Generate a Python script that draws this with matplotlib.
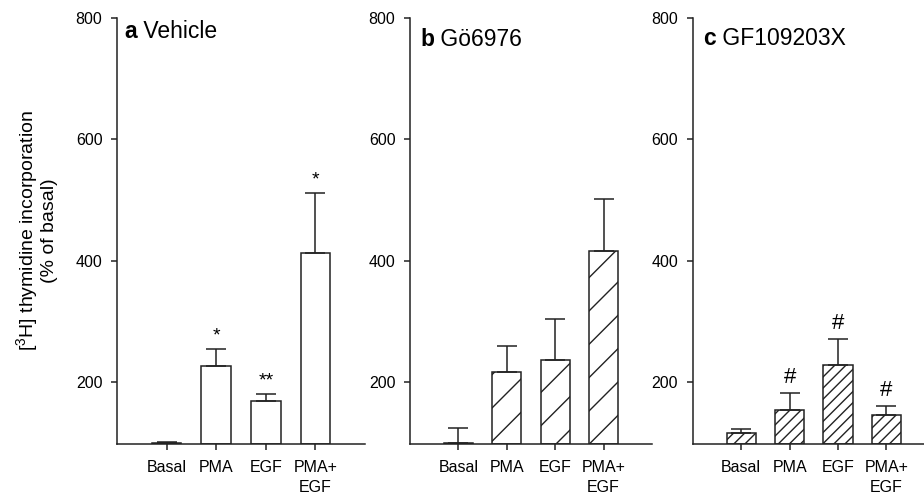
import matplotlib
matplotlib.use("Agg")
import matplotlib.pyplot as plt
import numpy as np

plt.rcParams['font.family'] = ['Liberation Sans', 'DejaVu Sans']
plt.rcParams['mathtext.fontset'] = 'custom'
plt.rcParams['mathtext.rm'] = 'Liberation Sans'
plt.rcParams['mathtext.it'] = 'Liberation Sans:italic'
plt.rcParams['mathtext.bf'] = 'Liberation Sans:bold'
plt.rcParams['hatch.linewidth'] = 1.0

categories = ["Basal", "PMA", "EGF", "PMA+\nEGF"]

vehicle_vals = [100, 227, 169, 413]
vehicle_err = [1, 28, 11, 99]
vehicle_marks = ["", "*", "**", "*"]

go_vals = [100, 216, 236, 416]
go_err = [25, 44, 68, 85]
go_marks = ["", "", "", ""]

gf_vals = [116, 154, 228, 145]
gf_err = [7, 28, 43, 15]
gf_marks = ["", "#", "#", "#"]

panel_letters = ["a", "b", "c"]
panel_names = ["Vehicle", "Gö6976", "GF109203X"]
ylabel = "[$\\mathregular{^{3}}$H] thymidine incorporation\n(% of basal)"
yticks = [200, 400, 600, 800]

W, H = 924, 495
fig = plt.figure(figsize=(W / 100, H / 100), dpi=100)

# axes rectangles in pixels: left, right(at x=4), top(800), bottom
rects = [(117, 365, 18, 444), (410, 652, 18, 444), (692.7, 934.9, 18, 444)]
title_pos = [(0.03, 0.968), (0.042, 0.950), (0.045, 0.952)]
hatches = [None, "/", "///"]
ec = "#222222"

panels = [(vehicle_vals, vehicle_err, vehicle_marks),
          (go_vals, go_err, go_marks),
          (gf_vals, gf_err, gf_marks)]

for i, ((vals, errs, marks), (l, r, t, b)) in enumerate(zip(panels, rects)):
    ax = fig.add_axes([l / W, (H - b) / H, (r - l) / W, (b - t) / H])
    x = np.arange(len(categories))
    ax.bar(x, np.array(vals) - 98, bottom=98, width=0.6, color="white",
           edgecolor=ec, linewidth=1.1, hatch=hatches[i], zorder=2)
    ax.errorbar(x, vals, yerr=[np.zeros(len(vals)), errs], fmt="none",
                ecolor=ec, elinewidth=1.1, capsize=7, capthick=1.1, zorder=3)
    ax.set_xlim(-1, 4)
    ax.set_ylim(98, 800)
    ax.set_yticks(yticks)
    ax.set_xticks(x)
    ax.set_xticklabels(categories, linespacing=1.4)
    for s in ["top", "right"]:
        ax.spines[s].set_visible(False)
    for s in ["left", "bottom"]:
        ax.spines[s].set_color(ec)
        ax.spines[s].set_linewidth(1.1)
    ax.tick_params(axis="both", direction="out", length=4.5, width=1.1,
                   colors=ec, labelcolor="black", labelsize=11.5)
    ax.tick_params(axis="x", pad=7)
    ax.tick_params(axis="y", pad=6)
    for xi, v, e, m in zip(x, vals, errs, marks):
        if not m:
            continue
        if m.startswith("#"):
            ax.annotate(m, xy=(xi, v + e), xytext=(0, 7.5), textcoords="offset points",
                        ha="center", va="baseline", fontsize=16, color="black")
        else:
            ax.annotate(m, xy=(xi, v + e), xytext=(0, 6), textcoords="offset points",
                        ha="center", va="baseline", fontsize=14, color="black")
    tx, ty = title_pos[i]
    t1 = ax.text(tx, ty, panel_letters[i], transform=ax.transAxes, fontsize=16.5,
                 fontweight="bold", ha="left", va="center")
    ax.annotate(" " + panel_names[i], xy=(1, 0), xycoords=t1, ha="left", va="bottom",
                fontsize=16.5)
    if i == 0:
        ax.set_ylabel(ylabel, fontsize=14, linespacing=1.05)
        ax.yaxis.set_label_coords(-0.238, 0.5)

fig.savefig("out.png", dpi=100)
